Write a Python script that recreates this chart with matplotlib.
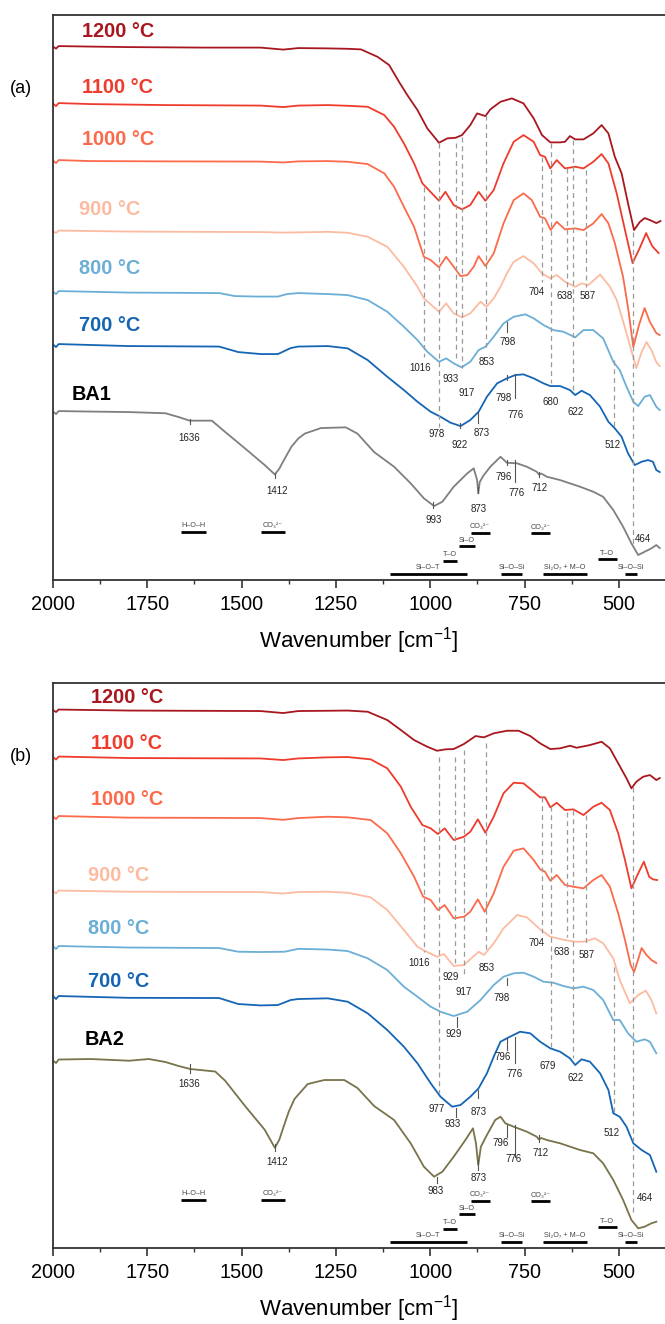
import matplotlib.pyplot as plt
import numpy as np

plt.rcParams['font.family'] = ['Liberation Sans', 'DejaVu Sans']
plt.rcParams['mathtext.fontset'] = 'custom'
plt.rcParams['mathtext.rm'] = 'Liberation Sans'
plt.rcParams['mathtext.default'] = 'regular'

# ---------------- panel (a): BA1 and its calcined products ----------------
# transmittance relative to the 2000 cm-1 level (a.u.)
wn_1200a = [2000, 1992, 1985, 1900, 1800, 1600, 1450, 1390, 1350, 1272, 1219, 1184, 1140, 1109, 1083, 1061, 1034, 1008,
            977, 955, 933, 916, 894, 876, 854, 841, 814, 784, 753, 726, 704, 682, 656, 643, 630, 616, 594, 568, 546, 528,
            511, 493, 476, 460, 445, 432, 418, 401, 390]
t_1200a = [0, -0.2, 0.05, 0, -0.05, -0.1, -0.1, -0.3, -0.15, -0.18, -0.22, -0.28, -1.02, -1.85, -3.52, -4.85, -6.35, -8.18,
           -9.62, -9.18, -9.12, -8.85, -7.85, -6.68, -6.95, -6.28, -5.52, -5.18, -5.68, -7.18, -8.85, -9.58, -9.58, -9.52,
           -8.95, -9.28, -9.28, -8.68, -7.85, -8.68, -11.02, -12.68, -15.68, -18.35, -17.55, -17.15, -17.35, -17.65, -17.45]

wn_1100a = [2000, 1992, 1985, 1900, 1700, 1450, 1390, 1350, 1272, 1219, 1166, 1122, 1096, 1070, 1043, 1021, 1004, 977,
            960, 938, 916, 894, 872, 854, 832, 806, 779, 753, 726, 709, 696, 682, 665, 643, 616, 594, 568, 546, 528, 506,
            484, 464, 445, 428, 412, 395]
t_1100a = [0, -0.25, 0.05, -0.05, -0.15, -0.2, -0.35, -0.2, -0.15, -0.22, -0.32, -1.15, -2.32, -3.98, -5.98, -7.98, -8.65,
           -9.72, -8.82, -10.15, -10.58, -10.15, -8.82, -9.72, -8.65, -5.98, -3.82, -3.15, -3.82, -5.15, -5.32, -6.48,
           -5.65, -6.48, -6.32, -6.48, -5.82, -5.05, -5.98, -8.98, -12.65, -15.95, -14.45, -12.95, -14.25, -14.95]

wn_1000a = [2000, 1992, 1985, 1900, 1700, 1450, 1390, 1350, 1272, 1219, 1166, 1122, 1096, 1070, 1043, 1017, 999, 977,
            958, 938, 920, 902, 885, 872, 854, 832, 806, 779, 753, 731, 709, 696, 681, 665, 643, 616, 594, 568, 546, 528,
            511, 489, 475, 462, 447, 432, 418, 401, 392]
t_1000a = [0, -0.25, 0.05, -0.05, -0.08, -0.1, -0.19, -0.08, -0.05, -0.12, -0.35, -1.28, -2.62, -4.62, -6.62, -9.62,
           -9.95, -10.68, -9.62, -10.62, -11.55, -11.45, -10.62, -9.55, -10.55, -9.28, -6.28, -3.95, -3.28, -3.95, -5.62,
           -5.78, -6.95, -6.12, -6.88, -6.78, -6.95, -6.28, -5.35, -6.28, -8.25, -11.65, -14.95, -18.65, -16.45, -14.75,
           -16.15, -17.25, -17.45]

wn_900a = [2000, 1992, 1985, 1800, 1450, 1390, 1300, 1272, 1219, 1166, 1114, 1070, 1034, 1017, 997, 977, 958, 938, 916,
           894, 867, 851, 832, 814, 797, 779, 753, 726, 704, 682, 665, 643, 616, 599, 581, 550, 524, 506, 490, 475, 454,
           440, 427, 414, 401, 392]
t_900a = [0, -0.2, 0.05, -0.05, -0.1, -0.15, -0.1, -0.07, -0.17, -0.57, -1.57, -3.57, -5.57, -6.73, -7.4, -8.07, -7.23,
          -8.23, -8.63, -8.23, -7.07, -7.57, -6.73, -5.57, -4.23, -3.07, -2.5, -3.23, -4.23, -4.73, -4.4, -5.07, -5.57,
          -5.23, -5.4, -4.35, -5.57, -6.9, -8.9, -10.9, -13.7, -12.1, -11.1, -11.9, -13.1, -13.5]

wn_800a = [2000, 1992, 1985, 1800, 1560, 1518, 1460, 1404, 1380, 1350, 1272, 1219, 1166, 1114, 1070, 1034, 1008, 977, 958,
           938, 917, 894, 872, 854, 832, 806, 779, 748, 726, 700, 674, 647, 616, 594, 568, 542, 515, 498, 480, 462, 449,
           432, 418, 401, 392]
t_800a = [0, -0.25, 0.05, -0.1, -0.15, -0.45, -0.5, -0.5, -0.25, -0.15, -0.25, -0.35, -0.85, -2.02, -3.52, -4.85, -6.02,
          -7.02, -6.68, -7.18, -7.58, -7.02, -5.85, -5.52, -4.52, -3.18, -2.52, -2.28, -2.68, -3.35, -3.85, -4.02, -4.58,
          -3.85, -3.85, -4.68, -7.02, -7.85, -9.52, -11.02, -11.45, -10.52, -10.35, -11.52, -11.85]

wn_700a = [2000, 1992, 1985, 1800, 1560, 1509, 1450, 1404, 1370, 1350, 1272, 1219, 1166, 1114, 1070, 1034, 999, 973, 946,
           920, 894, 872, 850, 823, 797, 775, 753, 726, 700, 682, 656, 630, 616, 599, 577, 550, 528, 511, 493, 476, 458,
           440, 423, 410, 401, 392]
t_700a = [0, -0.25, 0.05, -0.15, -0.2, -0.75, -0.95, -0.95, -0.35, -0.2, -0.15, -0.38, -1.55, -3.22, -4.55, -5.72, -6.72,
          -7.22, -7.82, -8.15, -7.55, -6.72, -5.22, -3.88, -3.38, -3.05, -2.98, -3.38, -3.88, -4.15, -4.15, -4.55, -5.05,
          -4.62, -5.05, -6.22, -7.72, -8.38, -9.22, -10.88, -12.05, -11.72, -11.55, -11.72, -12.55, -12.75]

wn_ba1 = [2000, 1992, 1985, 1900, 1800, 1702, 1667, 1638, 1579, 1544, 1491, 1439, 1412, 1400, 1390, 1368, 1350, 1333,
          1290, 1224, 1193, 1149, 1096, 1052, 1017, 990, 968, 938, 902, 885, 876, 873, 869, 860, 841, 814, 797, 770, 744,
          718, 712, 706, 691, 656, 603, 568, 542, 515, 489, 467, 449, 432, 414, 401, 392]
t_ba1 = [0, -0.25, 0.05, 0, -0.05, -0.17, -0.55, -0.91, -0.91, -2.03, -3.69, -5.35, -6.29, -5.7, -4.99, -3.51, -2.7,
         -2.21, -1.65, -1.58, -2.21, -4.05, -5.52, -7.18, -8.68, -9.45, -9.02, -7.52, -6.18, -5.68, -6.85, -8.18, -7.05,
         -6.45, -5.52, -4.52, -5.12, -5.18, -5.52, -6.02, -6.3, -6.2, -6.52, -6.85, -7.52, -8.02, -8.52, -9.85, -11.52,
         -13.18, -14.35, -14.02, -13.68, -13.35, -13.65]

# ---------------- panel (b): BA2 and its calcined products ----------------
wn_1200b = [2000, 1992, 1985, 1800, 1450, 1390, 1350, 1272, 1219, 1166, 1114, 1078, 1043, 1008, 982, 960, 938, 911, 880,
            858, 832, 797, 766, 735, 709, 682, 656, 630, 612, 577, 546, 524, 502, 480, 467, 454, 436, 418, 401, 392]
t_1200b = [0, -0.2, 0.05, -0.05, -0.1, -0.3, -0.1, -0.07, -0.05, -0.17, -1.0, -2.0, -3.0, -3.67, -4.07, -3.93, -3.9, -3.4,
           -2.6, -2.73, -2.33, -2.07, -2.07, -2.6, -3.33, -3.9, -3.83, -3.57, -3.77, -3.5, -3.17, -3.83, -5.33, -6.83,
           -7.83, -7.17, -6.67, -6.5, -7.0, -6.8]

wn_1100b = [2000, 1992, 1985, 1800, 1450, 1390, 1350, 1272, 1219, 1158, 1114, 1078, 1052, 1021, 999, 980, 962, 938, 911,
            894, 874, 854, 832, 806, 779, 753, 726, 709, 696, 682, 665, 643, 621, 594, 568, 546, 524, 502, 484, 467, 449,
            434, 420, 410, 399]
t_1100b = [0, -0.25, 0.05, -0.1, -0.14, -0.3, -0.14, -0.03, 0, -0.23, -1.13, -2.97, -4.97, -6.8, -7.13, -7.7, -7.13,
           -8.3, -7.97, -7.47, -6.23, -7.57, -5.97, -3.63, -2.57, -2.63, -3.47, -4.03, -4.03, -5.03, -4.57, -5.3, -5.23,
           -5.8, -4.97, -4.57, -5.3, -7.63, -10.3, -13.13, -11.63, -10.47, -11.97, -12.23, -12.3]

wn_1000b = [2000, 1992, 1985, 1800, 1450, 1390, 1350, 1272, 1219, 1158, 1114, 1078, 1043, 1019, 999, 980, 962, 938, 911,
            894, 874, 856, 832, 806, 779, 753, 726, 709, 696, 682, 665, 643, 621, 594, 568, 546, 524, 502, 484, 469, 460,
            448, 440, 427, 414, 401]
t_1000b = [0, -0.25, 0.05, -0.11, -0.15, -0.33, -0.15, -0.02, -0.08, -0.35, -1.68, -3.68, -6.02, -8.02, -8.35, -9.35,
           -8.85, -10.18, -10.02, -9.52, -8.28, -9.52, -7.68, -5.02, -3.42, -3.18, -4.35, -5.28, -5.52, -6.42, -5.85,
           -6.85, -7.02, -7.18, -6.35, -5.85, -7.02, -9.68, -12.35, -14.85, -15.55, -14.15, -13.15, -13.85, -14.35, -14.65]

wn_900b = [2000, 1992, 1985, 1800, 1450, 1390, 1350, 1272, 1219, 1158, 1114, 1070, 1034, 1019, 982, 964, 938, 911, 872,
           858, 832, 806, 770, 744, 709, 682, 643, 616, 594, 564, 542, 515, 498, 471, 449, 429, 414, 401]
t_900b = [0, -0.25, 0.05, -0.07, -0.1, -0.25, -0.1, -0.07, -0.17, -0.63, -1.9, -3.9, -5.57, -5.9, -6.57, -6.3, -7.5,
          -7.4, -6.07, -6.4, -5.23, -3.73, -2.4, -2.63, -3.83, -4.57, -4.9, -5.07, -5.07, -4.73, -5.23, -6.73, -8.9,
          -11.23, -10.4, -9.97, -10.9, -12.23]

wn_800b = [2000, 1992, 1985, 1800, 1560, 1509, 1450, 1386, 1350, 1272, 1219, 1166, 1114, 1070, 1034, 999, 973, 938, 902,
           867, 832, 806, 779, 753, 726, 700, 674, 647, 621, 594, 568, 542, 515, 498, 476, 454, 432, 418, 401]
t_800b = [0, -0.3, 0, -0.15, -0.2, -0.57, -0.6, -0.57, -0.28, -0.35, -0.5, -1.23, -2.4, -4.07, -5.07, -6.07, -6.57,
          -7.0, -6.57, -5.4, -3.9, -3.07, -2.73, -2.67, -3.07, -3.57, -3.67, -4.0, -4.23, -4.07, -4.4, -5.4, -7.4, -7.4,
          -8.73, -9.57, -9.33, -9.57, -10.73]

wn_700b = [2000, 1992, 1985, 1800, 1560, 1509, 1450, 1404, 1370, 1350, 1272, 1219, 1166, 1114, 1070, 1034, 999, 973, 942,
           920, 894, 872, 850, 832, 814, 792, 762, 735, 709, 682, 656, 630, 616, 599, 577, 550, 528, 515, 498, 480, 462,
           440, 418, 401]
t_700b = [0, -0.3, 0, -0.18, -0.2, -0.8, -0.94, -0.9, -0.4, -0.3, -0.23, -0.57, -1.73, -3.4, -5.07, -6.73, -8.73, -10.07,
          -11.07, -10.9, -10.07, -9.23, -7.73, -6.07, -4.57, -4.13, -3.57, -3.73, -4.57, -5.23, -5.57, -6.23, -6.9, -6.33,
          -6.57, -7.73, -9.4, -11.73, -12.07, -13.07, -14.73, -15.4, -15.9, -17.57]

wn_ba2 = [2000, 1992, 1985, 1900, 1798, 1746, 1702, 1667, 1636, 1570, 1544, 1491, 1439, 1412, 1400, 1390, 1375, 1360,
          1325, 1281, 1228, 1193, 1149, 1096, 1052, 1017, 990, 968, 938, 907, 887, 879, 873, 866, 850, 828, 814, 801, 779,
          744, 718, 712, 706, 691, 656, 603, 568, 542, 515, 489, 467, 449, 432, 414, 401]
t_ba2 = [0, -0.25, 0.1, 0.15, -0.02, 0.15, -0.15, -0.55, -0.85, -1.1, -2.01, -4.55, -6.92, -8.73, -7.9, -6.75, -5.1,
         -3.85, -2.35, -1.95, -1.95, -2.75, -4.55, -5.95, -8.28, -10.62, -11.62, -11.12, -9.62, -7.95, -6.78, -8.28,
         -10.45, -8.62, -7.45, -5.95, -5.62, -6.28, -6.62, -7.12, -7.62, -7.9, -7.75, -7.95, -8.28, -8.95, -9.28, -10.28,
         -11.95, -13.95, -15.95, -16.78, -16.62, -16.28, -16.12]

series_names = ['1200 °C', '1100 °C', '1000 °C', '900 °C', '800 °C', '700 °C']
line_colors = ['#a8171f', '#ef3b2c', '#fb6a4a', '#fcbba1', '#6baed6', '#1565b5']

spectra_a = [(wn_1200a, t_1200a), (wn_1100a, t_1100a), (wn_1000a, t_1000a), (wn_900a, t_900a),
             (wn_800a, t_800a), (wn_700a, t_700a), (wn_ba1, t_ba1)]
spectra_b = [(wn_1200b, t_1200b), (wn_1100b, t_1100b), (wn_1000b, t_1000b), (wn_900b, t_900b),
             (wn_800b, t_800b), (wn_700b, t_700b), (wn_ba2, t_ba2)]

# vertical stacking offsets
offsets_a = [53.35, 47.65, 41.95, 34.9, 28.85, 23.55, 16.85]
offsets_b = [53.8, 49.1, 43.15, 35.7, 30.2, 25.2, 18.75]

# name label anchors (wavenumber, height)
names_pos_a = [(1923, 54.85), (1923, 49.25), (1923, 44.05), (1930, 37.05), (1930, 31.2), (1930, 25.5), (1950, 18.55)]
names_pos_b = [(1899, 55.1), (1899, 50.5), (1899, 44.9), (1907, 37.3), (1907, 32.0), (1907, 26.7), (1915, 20.9)]

# guide lines (wavenumber, top, bottom)
dash_a = [(1016, 39.3, 22.3), (978, 43.7, 15.3), (933, 43.7, 22.2), (917, 44.3, 21.2), (853, 46.5, 23.3),
          (704, 42.3, 29.8), (680, 43.7, 19.7), (638, 41.2, 29.3), (622, 44.0, 19.0), (587, 41.0, 29.3),
          (512, 22.0, 15.3), (464, 34.8, 3.3)]
dash_b = [(1016, 42.0, 29.6), (977, 49.1, 15.5), (935, 49.1, 28.5), (912, 49.8, 27.1), (853, 50.5, 29.5),
          (704, 45.1, 31.5), (679, 44.2, 20.1), (638, 43.6, 31.1), (622, 43.8, 19.0), (587, 43.3, 30.5),
          (512, 28.1, 13.5), (464, 46.1, 3.5)]

sticks_a = [(798, 25.8, 24.8), (922, 15.7, 15.2), (873, 16.8, 15.7), (798, 20.5, 20.0), (776, 20.6, 18.2),
            (1636, 16.1, 15.6), (1412, 10.7, 10.2), (993, 7.8, 7.2), (873, 9.3, 8.7), (796, 12.0, 11.5),
            (776, 12.0, 9.8), (712, 10.8, 10.3)]
sticks_b = [(798, 27.0, 26.3), (929, 23.1, 22.1), (933, 14.0, 13.1), (873, 15.8, 15.0), (796, 21.0, 19.8),
            (776, 21.1, 18.5), (1636, 18.4, 17.5), (1412, 10.4, 9.7), (983, 7.1, 6.5), (873, 8.8, 7.8),
            (796, 12.3, 11.1), (776, 12.3, 9.1), (712, 11.3, 10.6)]

peaks_a = [("1016", 1026, 21.2), ("933", 946, 20.1), ("917", 904, 18.7), ("853", 850, 21.8), ("798", 794, 23.8),
           ("704", 718, 28.8), ("638", 645, 28.4), ("587", 584, 28.4), ("978", 982, 14.6), ("922", 922, 13.5),
           ("873", 863, 14.7), ("798", 807, 18.2), ("776", 775, 16.5), ("680", 680, 17.8), ("622", 616, 16.8),
           ("512", 517, 13.5), ("1636", 1638, 14.2), ("1412", 1405, 8.9), ("993", 990, 6.0), ("873", 872, 7.1),
           ("796", 806, 10.3), ("776", 772, 8.7), ("712", 710, 9.2), ("464", 436, 4.1)]
peaks_b = [("1016", 1030, 28.5), ("929", 946, 27.1), ("917", 913, 25.6), ("853", 851, 28.0), ("704", 719, 30.5),
           ("638", 652, 29.6), ("587", 587, 29.3), ("798", 810, 25.0), ("929", 939, 21.4), ("977", 983, 13.9),
           ("933", 942, 12.4), ("873", 872, 13.6), ("796", 807, 19.1), ("776", 777, 17.4), ("679", 689, 18.2),
           ("622", 616, 17.0), ("512", 520, 11.5), ("1636", 1638, 16.4), ("1412", 1405, 8.6), ("983", 986, 5.7),
           ("873", 872, 7.0), ("796", 814, 10.5), ("776", 779, 8.9), ("712", 709, 9.5), ("464", 432, 5.0)]

# band assignments: label, from, to, level
bands = [("Si–O–T", 1108, 903, 0.65), ("T–O", 967, 928, 1.95), ("Si–O", 925, 882, 3.4), ("CO₃²⁻", 893, 843, 4.75),
         ("CO₃²⁻", 733, 684, 4.7), ("Si–O–Si", 813, 757, 0.65), ("Si₂O₇ + M–O", 701, 585, 0.65),
         ("T–O", 556, 506, 2.1), ("Si–O–Si", 483, 452, 0.65), ("H–O–H", 1660, 1595, 4.85),
         ("CO₃²⁻", 1449, 1384, 4.85)]


def draw_panel(ax, spectra, offsets, names, names_pos, ref_color, dashes, sticks, peaks):
    colors = line_colors + [ref_color]
    for (wn, t), off, col in zip(spectra, offsets, colors):
        ax.plot(wn, np.array(t) + off, color=col, lw=1.3)
    text_colors = line_colors + ['black']
    for name, (x, y), col in zip(names, names_pos, text_colors):
        ax.text(x, y, name, color=col, fontsize=14.3, fontweight='bold', va='center', ha='left')
    for w, y0, y1 in dashes:
        ax.plot([w, w], [y0, y1], color='#9a9a9a', lw=0.9, ls=(0, (4, 3)))
    for w, y0, y1 in sticks:
        ax.plot([w, w], [y0, y1], color='#555555', lw=0.8)
    for s, w, y in peaks:
        ax.text(w, y, s, fontsize=7, ha='center', va='center', color='#222222')
    for s, w0, w1, h in bands:
        ax.plot([w0, w1], [h, h], color='black', lw=2.0, solid_capstyle='butt')
        ax.text((w0 + w1) / 2, h + 0.25, s, fontsize=5.2, ha='center', va='bottom', color='#444444')

    ax.set_xlim(2000, 378)
    ax.set_ylim(0, 56.5)
    ax.set_yticks([])
    ax.set_xticks([2000, 1750, 1500, 1250, 1000, 750, 500])
    ax.set_xticks([1875, 1625, 1375, 1125, 875, 625], minor=True)
    ax.tick_params(axis='x', which='major', direction='out', length=6, width=1.2, labelsize=14.3, pad=5,
                   color='#333333')
    ax.tick_params(axis='x', which='minor', direction='out', length=3, width=1.0, color='#333333')
    ax.spines['right'].set_visible(False)
    for side in ['left', 'bottom', 'top']:
        ax.spines[side].set_linewidth(1.3)
        ax.spines[side].set_color('#333333')
    ax.set_xlabel('Wavenumber [cm$^{-1}$]', fontsize=16, labelpad=8)


fig = plt.figure(figsize=(6.65, 13.24), dpi=100)
ax_a = fig.add_axes([0.0797, 0.5619, 0.9203, 0.4267])
ax_b = fig.add_axes([0.0797, 0.0574, 0.9203, 0.4267])

draw_panel(ax_a, spectra_a, offsets_a, series_names + ['BA1'], names_pos_a, '#7f7f7f', dash_a, sticks_a, peaks_a)
draw_panel(ax_b, spectra_b, offsets_b, series_names + ['BA2'], names_pos_b, '#78734b', dash_b, sticks_b, peaks_b)

fig.text(0.0316, 0.9335, '(a)', fontsize=13, ha='center', va='center')
fig.text(0.0316, 0.429, '(b)', fontsize=13, ha='center', va='center')

fig.savefig('out.png', dpi=100)
